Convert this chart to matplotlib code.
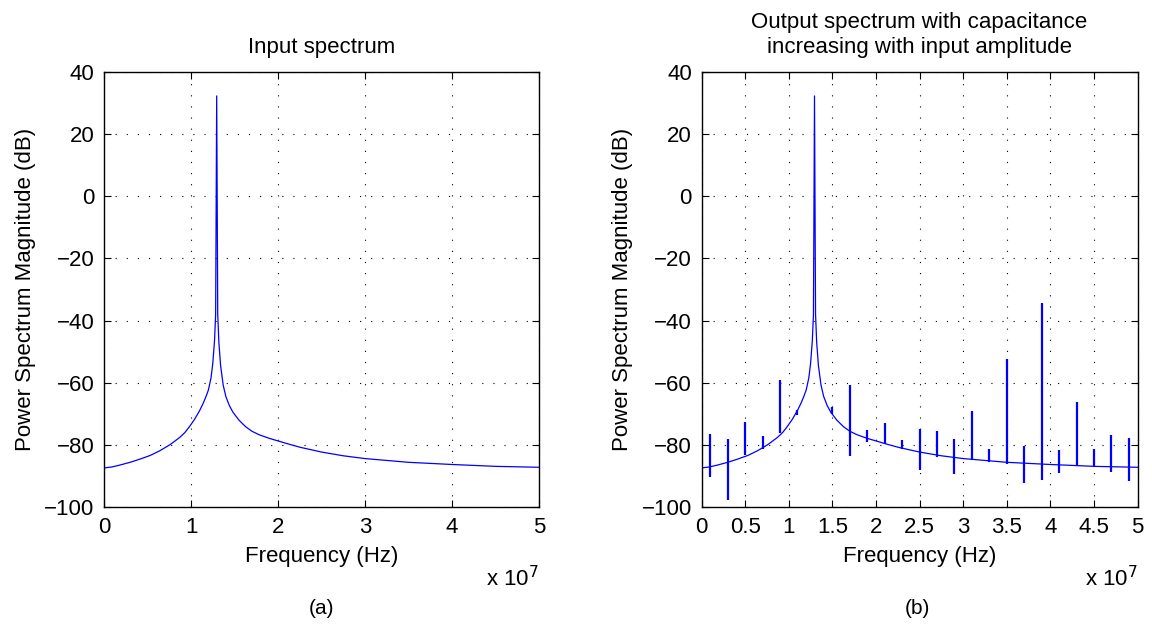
import numpy as np
import matplotlib.pyplot as plt

plt.rcParams['font.family'] = ['Liberation Sans', 'DejaVu Sans']
plt.rcParams['font.size'] = 16
plt.rcParams['lines.scale_dashes'] = False

# frequencies in units of 1e7 Hz, levels in dB
base_freq = [0.0, 0.09, 0.18, 0.30, 0.41, 0.53, 0.64, 0.76, 0.87, 0.93, 0.98, 1.04,
             1.10, 1.14, 1.17, 1.20, 1.23, 1.25, 1.27, 1.283,
             1.295, 1.307, 1.32, 1.34, 1.37, 1.40, 1.44, 1.48, 1.55, 1.63, 1.70,
             1.78, 1.90, 2.01, 2.13, 2.26, 2.50, 2.75, 3.0, 3.5, 4.0, 4.5, 5.0]
base_db = [-87.4, -87.1, -86.5, -85.6, -84.6, -83.4, -81.9, -79.9, -77.6, -76.0, -74.2, -71.8,
           -68.9, -66.6, -64.6, -62.3, -58.4, -53.8, -46.5, -38.0,
           32.3, -38.0, -47.0, -54.5, -60.8, -64.4, -67.3, -69.4, -72.0, -74.2, -75.6,
           -76.7, -77.9, -78.8, -79.8, -80.8, -82.3, -83.5, -84.4, -85.6, -86.3, -86.9, -87.2]

# intermodulation spurs in the output spectrum
spur_freq = [0.1, 0.3, 0.5, 0.7, 0.9, 1.1, 1.5, 1.7, 1.9, 2.1, 2.3, 2.5,
             2.7, 2.9, 3.1, 3.3, 3.5, 3.7, 3.9, 4.1, 4.3, 4.5, 4.7, 4.9]
spur_top = [-76.6, -78.2, -72.6, -77.2, -59.0, -68.9, -67.8, -60.8, -75.3, -73.0, -78.5, -75.0,
            -75.6, -78.2, -69.1, -81.2, -52.3, -80.4, -34.4, -81.7, -66.1, -81.2, -76.7, -77.8]
spur_bottom = [-90.3, -97.8, -83.3, -81.4, -76.2, -70.5, -69.9, -83.6, -79.2, -79.8, -81.2, -88.1,
               -84.0, -89.5, -84.7, -85.5, -86.0, -92.2, -91.3, -89.0, -86.8, -87.1, -88.7, -91.6]

left_ticks = [0, 1, 2, 3, 4, 5]
right_ticks = [0, 0.5, 1, 1.5, 2, 2.5, 3, 3.5, 4, 4.5, 5]
y_ticks = [-100, -80, -60, -40, -20, 0, 20, 40]

fig = plt.figure(figsize=(11.52, 6.26), dpi=100)
ax1 = fig.add_axes([0.0903, 0.190, 0.3776, 0.695])
ax2 = fig.add_axes([0.609, 0.190, 0.3785, 0.695])


def style(ax, xt):
    ax.set_xlim(0, 5)
    ax.set_ylim(-100, 40)
    ax.set_xticks(xt)
    ax.set_xticklabels(['%g' % t for t in xt])
    ax.set_yticks(y_ticks)
    ax.tick_params(direction='in', top=True, right=True, length=5, width=0.8, pad=7)
    ax.grid(True, color='black', linestyle=(0, (0.8, 7.2)), linewidth=0.8)
    for s in ax.spines.values():
        s.set_linewidth(1.0)
    ax.set_xlabel('Frequency (Hz)', labelpad=6)
    ax.set_ylabel('Power Spectrum Magnitude (dB)', labelpad=6)
    ax.text(1.0, -0.135, r'x 10$^7$', transform=ax.transAxes, ha='right', va='top', fontsize=16)


ax1.plot(base_freq, base_db, color='blue', linewidth=0.9)
style(ax1, left_ticks)
ax1.set_title('Input spectrum', fontsize=16, pad=14)

ax2.plot(base_freq, base_db, color='blue', linewidth=0.9)
ax2.vlines(spur_freq, spur_bottom, spur_top, color='blue', linewidth=1.6)
style(ax2, right_ticks)
ax2.set_title('Output spectrum with capacitance\nincreasing with input amplitude',
              fontsize=16, pad=14, linespacing=1.25)

fig.text(322 / 1152, 1 - 608 / 626, '(a)', ha='center', va='center', fontsize=15)
fig.text(917 / 1152, 1 - 608 / 626, '(b)', ha='center', va='center', fontsize=15)

fig.savefig('out.png', dpi=100)
